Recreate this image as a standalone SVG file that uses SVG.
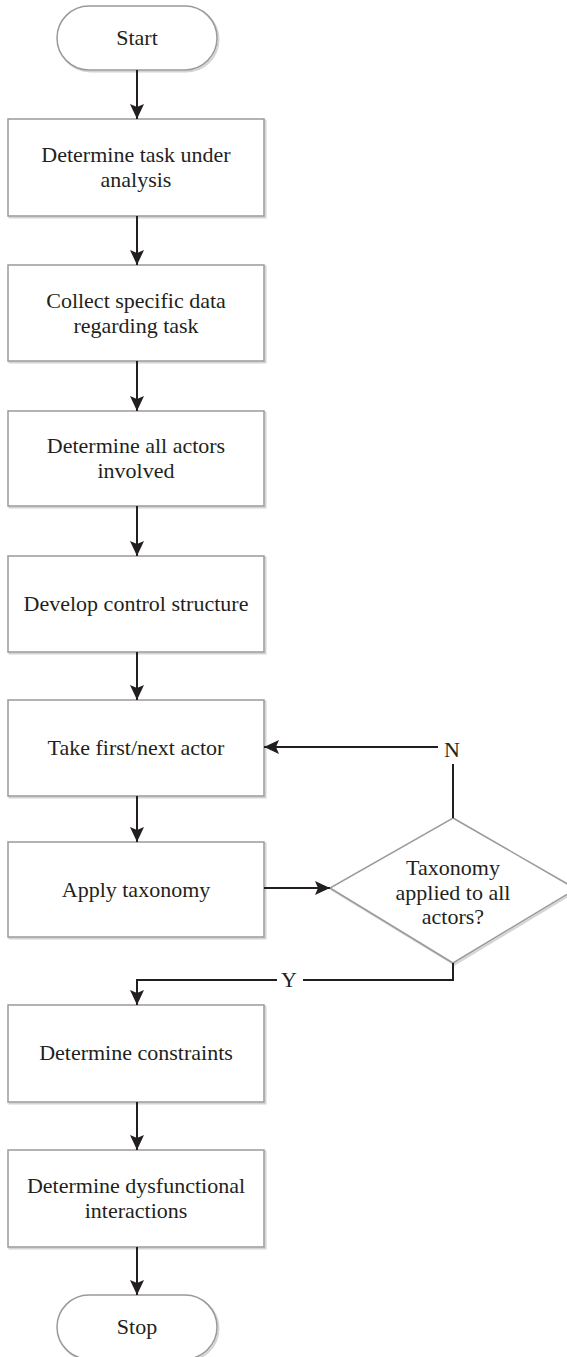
<svg xmlns="http://www.w3.org/2000/svg" width="567" height="1357" viewBox="0 0 567 1357">
  <style>
    .shape { fill: #ffffff; stroke: #9a9a9a; stroke-width: 1.5; }
    .shadow { fill: none; stroke: #d4d4d4; stroke-width: 2; }
    .label { font-family: 'Liberation Serif', 'DejaVu Serif', serif; font-size: 22px; fill: #231f20; text-anchor: middle; }
    .flow { fill: none; stroke: #231f20; stroke-width: 2; }
  </style>
  <defs>
    <marker id="arrow" markerUnits="userSpaceOnUse" markerWidth="16" markerHeight="14" refX="15" refY="7" orient="auto">
      <path d="M0,0 L15,7 L0,14 L3,7 z" fill="#231f20"/>
    </marker>
  </defs>
  <rect width="567" height="1357" fill="#ffffff"/>

  <!-- terminators -->
  <g id="start">
    <rect class="shadow" x="58.5" y="7.5" width="160" height="64" rx="32"/>
    <rect class="shape" x="57" y="6" width="160" height="64" rx="32"/>
    <text class="label" x="137" y="45" font-family="Liberation Serif, serif">Start</text>
  </g>

  <!-- process boxes -->
  <g id="determine-task">
    <rect class="shadow" x="9.5" y="120.5" width="256" height="97"/>
    <rect class="shape" x="8" y="119" width="256" height="97"/>
    <text class="label" x="136" y="162">Determine task under</text>
    <text class="label" x="136" y="187">analysis</text>
  </g>
  <g id="collect-data">
    <rect class="shadow" x="9.5" y="266.5" width="256" height="96"/>
    <rect class="shape" x="8" y="265" width="256" height="96"/>
    <text class="label" x="136" y="308">Collect specific data</text>
    <text class="label" x="136" y="333">regarding task</text>
  </g>
  <g id="determine-actors">
    <rect class="shadow" x="9.5" y="412.5" width="256" height="95"/>
    <rect class="shape" x="8" y="411" width="256" height="95"/>
    <text class="label" x="136" y="453">Determine all actors</text>
    <text class="label" x="136" y="478">involved</text>
  </g>
  <g id="control-structure">
    <rect class="shadow" x="9.5" y="557.5" width="256" height="96"/>
    <rect class="shape" x="8" y="556" width="256" height="96"/>
    <text class="label" x="136" y="611">Develop control structure</text>
  </g>
  <g id="next-actor">
    <rect class="shadow" x="9.5" y="701.5" width="256" height="96"/>
    <rect class="shape" x="8" y="700" width="256" height="96"/>
    <text class="label" x="136" y="755">Take first/next actor</text>
  </g>
  <g id="apply-taxonomy">
    <rect class="shadow" x="9.5" y="843.5" width="256" height="95"/>
    <rect class="shape" x="8" y="842" width="256" height="95"/>
    <text class="label" x="136" y="897">Apply taxonomy</text>
  </g>

  <!-- decision -->
  <g id="all-actors-check">
    <polygon class="shadow" points="454.5,819.5 578,890 454.5,964.5 331.5,889.5"/>
    <polygon class="shape" points="453,818 576,889 453,963 330,888"/>
    <text class="label" x="453" y="875">Taxonomy</text>
    <text class="label" x="453" y="900">applied to all</text>
    <text class="label" x="453" y="924">actors?</text>
  </g>

  <g id="determine-constraints">
    <rect class="shadow" x="9.5" y="1006.5" width="256" height="97"/>
    <rect class="shape" x="8" y="1005" width="256" height="97"/>
    <text class="label" x="136" y="1060">Determine constraints</text>
  </g>
  <g id="dysfunctional-interactions">
    <rect class="shadow" x="9.5" y="1151.5" width="256" height="97"/>
    <rect class="shape" x="8" y="1150" width="256" height="97"/>
    <text class="label" x="136" y="1193">Determine dysfunctional</text>
    <text class="label" x="136" y="1218">interactions</text>
  </g>

  <g id="stop">
    <rect class="shadow" x="58.5" y="1296.5" width="160" height="64" rx="32"/>
    <rect class="shape" x="57" y="1295" width="160" height="64" rx="32"/>
    <text class="label" x="137" y="1334">Stop</text>
  </g>

  <!-- connectors -->
  <g id="connectors">
    <line class="flow" x1="137" y1="70" x2="137" y2="119" marker-end="url(#arrow)"/>
    <line class="flow" x1="137" y1="216" x2="137" y2="265" marker-end="url(#arrow)"/>
    <line class="flow" x1="137" y1="361" x2="137" y2="411" marker-end="url(#arrow)"/>
    <line class="flow" x1="137" y1="506" x2="137" y2="556" marker-end="url(#arrow)"/>
    <line class="flow" x1="137" y1="652" x2="137" y2="700" marker-end="url(#arrow)"/>
    <line class="flow" x1="137" y1="796" x2="137" y2="842" marker-end="url(#arrow)"/>
    <line class="flow" x1="264" y1="888" x2="330" y2="888" marker-end="url(#arrow)"/>
    <!-- N branch back to the actor loop -->
    <line class="flow" x1="453" y1="818" x2="453" y2="764"/>
    <line class="flow" x1="438" y1="747" x2="264" y2="747" marker-end="url(#arrow)"/>
    <text class="label" x="452" y="757">N</text>
    <!-- Y branch onward -->
    <polyline class="flow" points="453,963 453,980 303,980"/>
    <polyline class="flow" points="277,980 137,980 137,1005" marker-end="url(#arrow)"/>
    <text class="label" x="289" y="987">Y</text>
    <line class="flow" x1="137" y1="1102" x2="137" y2="1150" marker-end="url(#arrow)"/>
    <line class="flow" x1="137" y1="1247" x2="137" y2="1295" marker-end="url(#arrow)"/>
  </g>
</svg>
